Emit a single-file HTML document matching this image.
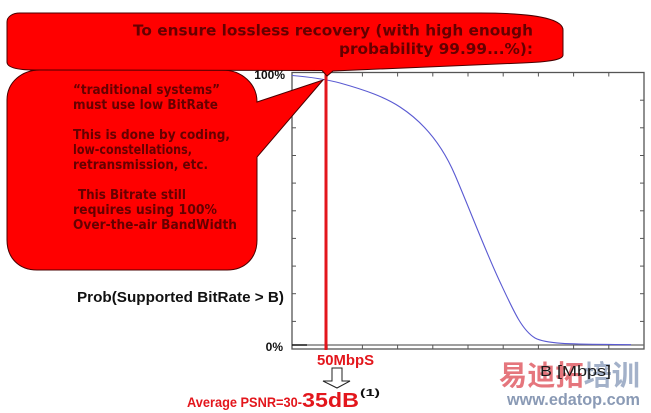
<!DOCTYPE html>
<html>
<head>
<meta charset="utf-8">
<style>
  html, body { margin: 0; padding: 0; background: #ffffff; }
  body { width: 651px; height: 413px; overflow: hidden; }
  svg { display: block; }
  .b { font-family: "DejaVu Sans", "Liberation Sans", sans-serif; font-weight: bold; fill: #650000; }
  .a { font-family: "Liberation Sans", "DejaVu Sans", sans-serif; }
</style>
</head>
<body>
<svg width="651" height="413" viewBox="0 0 651 413" xmlns="http://www.w3.org/2000/svg">
  <rect x="0" y="0" width="651" height="413" fill="#ffffff"/>

  <!-- watermark -->
  <text x="499" y="385" font-family="'Noto Sans CJK SC', 'WenQuanYi Zen Hei', sans-serif" font-weight="bold" font-size="28" textLength="141" lengthAdjust="spacingAndGlyphs"><tspan fill="#e5767d">易迪拓</tspan><tspan fill="#a3b1c9">培训</tspan></text>
  <text x="507" y="405" class="a" font-weight="bold" font-size="16.5" fill="#8a9ab5" textLength="133" lengthAdjust="spacingAndGlyphs">www.edatop.com</text>

  <!-- plot frame -->
  <g stroke="#555555" fill="none">
    <rect x="292" y="72.5" width="352" height="276.5" stroke-width="1.3"/>
    <line x1="292" y1="345" x2="644" y2="345" stroke="#666666" stroke-width="1.3"/>
    <line x1="292" y1="345" x2="307" y2="345" stroke="#111111" stroke-width="1.4"/>
  </g>
  <!-- ticks -->
  <g stroke="#555555" stroke-width="1">
    <line x1="327.2" y1="72.5" x2="327.2" y2="76.5"/>
    <line x1="362.4" y1="72.5" x2="362.4" y2="76.5"/>
    <line x1="397.6" y1="72.5" x2="397.6" y2="76.5"/>
    <line x1="432.8" y1="72.5" x2="432.8" y2="76.5"/>
    <line x1="468" y1="72.5" x2="468" y2="76.5"/>
    <line x1="503.2" y1="72.5" x2="503.2" y2="76.5"/>
    <line x1="538.4" y1="72.5" x2="538.4" y2="76.5"/>
    <line x1="573.6" y1="72.5" x2="573.6" y2="76.5"/>
    <line x1="608.8" y1="72.5" x2="608.8" y2="76.5"/>

    <line x1="327.2" y1="345" x2="327.2" y2="349"/>
    <line x1="362.4" y1="345" x2="362.4" y2="349"/>
    <line x1="397.6" y1="345" x2="397.6" y2="349"/>
    <line x1="432.8" y1="345" x2="432.8" y2="349"/>
    <line x1="468" y1="345" x2="468" y2="349"/>
    <line x1="503.2" y1="345" x2="503.2" y2="349"/>
    <line x1="538.4" y1="345" x2="538.4" y2="349"/>
    <line x1="573.6" y1="345" x2="573.6" y2="349"/>
    <line x1="608.8" y1="345" x2="608.8" y2="349"/>

    <line x1="292" y1="100.2" x2="296" y2="100.2"/>
    <line x1="292" y1="127.8" x2="296" y2="127.8"/>
    <line x1="292" y1="155.5" x2="296" y2="155.5"/>
    <line x1="292" y1="183.1" x2="296" y2="183.1"/>
    <line x1="292" y1="210.8" x2="296" y2="210.8"/>
    <line x1="292" y1="238.4" x2="296" y2="238.4"/>
    <line x1="292" y1="266.1" x2="296" y2="266.1"/>
    <line x1="292" y1="293.7" x2="296" y2="293.7"/>
    <line x1="292" y1="321.4" x2="296" y2="321.4"/>

    <line x1="640" y1="100.2" x2="644" y2="100.2"/>
    <line x1="640" y1="127.8" x2="644" y2="127.8"/>
    <line x1="640" y1="155.5" x2="644" y2="155.5"/>
    <line x1="640" y1="183.1" x2="644" y2="183.1"/>
    <line x1="640" y1="210.8" x2="644" y2="210.8"/>
    <line x1="640" y1="238.4" x2="644" y2="238.4"/>
    <line x1="640" y1="266.1" x2="644" y2="266.1"/>
    <line x1="640" y1="293.7" x2="644" y2="293.7"/>
    <line x1="640" y1="321.4" x2="644" y2="321.4"/>
  </g>

  <!-- curve -->
  <path fill="none" stroke="#5a5ad2" stroke-width="1.1"
    d="M292,75.5 C310,77 325,79 340,83 C365,90 385,97 400,107 C420,120 440,140 455,175 C470,210 485,250 500,282 C514,312 522,330 535,338 C548,345 580,344 631,344.7"/>

  <!-- red vertical line -->
  <line x1="326" y1="73" x2="326" y2="350" stroke="#e3161c" stroke-width="3"/>

  <!-- axis labels -->
  <text x="285" y="79" text-anchor="end" class="a" font-weight="bold" font-size="12" fill="#111">100%</text>
  <text x="283" y="351" text-anchor="end" class="a" font-weight="bold" font-size="12" fill="#111">0%</text>
  <text x="77" y="302" class="a" font-weight="bold" font-size="14.5" fill="#111" textLength="207" lengthAdjust="spacingAndGlyphs">Prob(Supported BitRate &gt; B)</text>
  <text x="540" y="376" class="a" font-size="15" fill="#1a1a1a" textLength="71" lengthAdjust="spacingAndGlyphs">B [Mbps]</text>

  <text x="317" y="365" class="a" font-weight="bold" font-size="15" fill="#e3161c" textLength="57" lengthAdjust="spacingAndGlyphs">50MbpS</text>

  <!-- hollow arrow -->
  <path d="M332,368 L342,368 L342,381 L350,381 L337,388 L323,381 L332,381 Z" fill="#ffffff" stroke="#222" stroke-width="1"/>

  <text x="187" y="407" class="a" font-weight="bold" font-size="14" fill="#e3161c" textLength="115" lengthAdjust="spacingAndGlyphs">Average PSNR=30-</text>
  <text x="302" y="407" class="a" font-weight="bold" font-size="20.5" fill="#e3161c" textLength="57" lengthAdjust="spacingAndGlyphs">35dB</text>
  <text x="360" y="396" class="a" font-weight="bold" font-size="10" fill="#111" textLength="20" lengthAdjust="spacingAndGlyphs">(1)</text>

  <!-- left bubble -->
  <path d="M40,70 L222,70 C242,70 257,84 257,102 L323,80 L257,157 L257,240 C257,258 245,270 227,270 L37,270 C19,270 7,258 7,240 L7,100 C7,82 22,70 40,70 Z"
        fill="#ff0000" stroke="#4a0000" stroke-width="1"/>
  <text x="73" y="94" class="b" font-size="13.5" textLength="147" lengthAdjust="spacingAndGlyphs">“traditional systems”</text>
  <text x="73" y="109" class="b" font-size="13.5" textLength="145" lengthAdjust="spacingAndGlyphs">must use low BitRate</text>
  <text x="73" y="139" class="b" font-size="13.5" textLength="157" lengthAdjust="spacingAndGlyphs">This is done by coding,</text>
  <text x="73" y="154" class="b" font-size="13.5" textLength="119" lengthAdjust="spacingAndGlyphs">low-constellations,</text>
  <text x="73" y="169" class="b" font-size="13.5" textLength="135" lengthAdjust="spacingAndGlyphs">retransmission, etc.</text>
  <text x="78" y="199" class="b" font-size="13.5" textLength="108" lengthAdjust="spacingAndGlyphs">This Bitrate still</text>
  <text x="73" y="214" class="b" font-size="13.5" textLength="144" lengthAdjust="spacingAndGlyphs">requires using 100%</text>
  <text x="73" y="229" class="b" font-size="13.5" textLength="164" lengthAdjust="spacingAndGlyphs">Over-the-air BandWidth</text>

  <!-- top bubble -->
  <path d="M20,13 L480,13 C530,13 563,18 563,30 L563,55 C563,60 548,62 522,63 L333,71 L327,76 L322,70.5 L35,70 C15,70 7,67 7,62 L7,22 C7,17 12,13 20,13 Z"
        fill="#ff0000" stroke="#4a0000" stroke-width="1"/>
  <text x="133" y="35.5" class="b" font-size="15.5" textLength="400" lengthAdjust="spacingAndGlyphs">To ensure lossless recovery (with high enough</text>
  <text x="339" y="54" class="b" font-size="15.5" textLength="194" lengthAdjust="spacingAndGlyphs">probability 99.99...%):</text>
</svg>
</body>
</html>
